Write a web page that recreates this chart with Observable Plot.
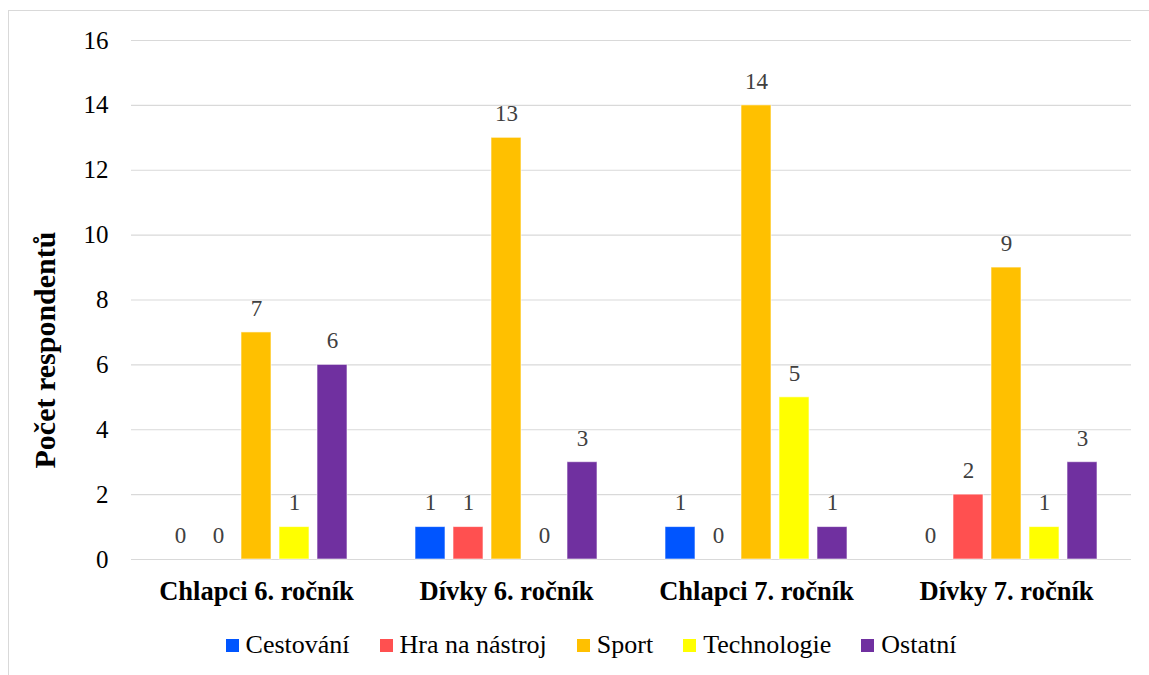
<!DOCTYPE html>
<html>
<head>
<meta charset="utf-8">
<script src="https://cdn.jsdelivr.net/npm/d3@7"></script>
<script src="https://cdn.jsdelivr.net/npm/@observablehq/plot@0.6"></script>
<style>
  html, body { margin: 0; padding: 0; background: #fff; overflow: hidden; }
  #wrap { position: relative; width: 1149px; height: 675px; font-family: "Liberation Serif", "Liberation Sans", sans-serif; }
  #frame { position: absolute; left: 8px; top: 10px; width: 1200px; height: 700px; border: 1px solid #d9d9d9; box-sizing: border-box; }
  #chart { position: absolute; left: 0; top: 0; }
  #chart svg text { font-family: "Liberation Serif", "Liberation Sans", sans-serif; }
  #ytitle { position: absolute; left: 45px; top: 350px; transform: translate(-50%, -50%) rotate(-90deg); font-weight: bold; font-size: 30px; white-space: nowrap; color: #000; }
  #legend { position: absolute; left: 0; width: 1182px; top: 629px; display: flex; justify-content: center; gap: 30px; font-size: 26px; color: #000; line-height: 32px; }
  .item { display: flex; align-items: center; gap: 7px; }
  .sw { width: 13px; height: 13px; display: inline-block; }
</style>
</head>
<body>
<div id="wrap">
  <div id="frame"></div>
  <div id="chart"></div>
  <div id="ytitle">Počet respondentů</div>
  <div id="legend"></div>
</div>
<script>
const groups = ["Chlapci 6. ročník", "Dívky 6. ročník", "Chlapci 7. ročník", "Dívky 7. ročník"];
const series = ["Cestování", "Hra na nástroj", "Sport", "Technologie", "Ostatní"];
const colors = ["#0055FF", "#FF5050", "#FFC000", "#FFFF00", "#7030A0"];
const cestovani   = [0, 1, 1, 0];
const hraNaNastroj = [0, 1, 0, 2];
const sport       = [7, 13, 14, 9];
const technologie = [1, 0, 5, 1];
const ostatni     = [6, 3, 1, 3];
const yTicks = [0, 2, 4, 6, 8, 10, 12, 14, 16];

const seriesValues = [cestovani, hraNaNastroj, sport, technologie, ostatni];
const data = [];
groups.forEach((g, gi) => {
  series.forEach((s, si) => {
    data.push({group: g, series: s, value: seriesValues[si][gi]});
  });
});

const chart = Plot.plot({
  width: 1149,
  height: 615,
  marginLeft: 130,
  marginRight: 18,
  marginTop: 40,
  marginBottom: 56,
  style: {background: "transparent", overflow: "visible"},
  fx: {domain: groups, padding: 0, label: null},
  x: {domain: series, paddingInner: 0.22, paddingOuter: 0.86, axis: null},
  y: {domain: [0, 16], ticks: yTicks, label: null},
  color: {domain: series, range: colors},
  marks: [
    Plot.gridY(yTicks, {stroke: "#d9d9d9", strokeOpacity: 1, strokeWidth: 1.2}),
    Plot.axisY(yTicks, {tickSize: 0, tickPadding: 23, fontSize: 25, fill: "#000", label: null}),
    Plot.axisFx({anchor: "bottom", tickSize: 0, tickPadding: 22, fontSize: 26.5, fontWeight: "bold", fill: "#000", label: null}),
    Plot.barY(data, {fx: "group", x: "series", y: "value", fill: "series", stroke: "#ffffff", strokeOpacity: 0.6, strokeWidth: 1}),
    Plot.text(data, {fx: "group", x: "series", y: "value", text: d => String(d.value), lineAnchor: "middle", dy: -24, fontSize: 23, fill: "#404040"})
  ]
});
document.getElementById("chart").appendChild(chart);

const legend = document.getElementById("legend");
series.forEach((s, i) => {
  const it = document.createElement("div");
  it.className = "item";
  const sw = document.createElement("span");
  sw.className = "sw";
  sw.style.background = colors[i];
  const tx = document.createElement("span");
  tx.textContent = s;
  it.appendChild(sw);
  it.appendChild(tx);
  legend.appendChild(it);
});
</script>
</body>
</html>
